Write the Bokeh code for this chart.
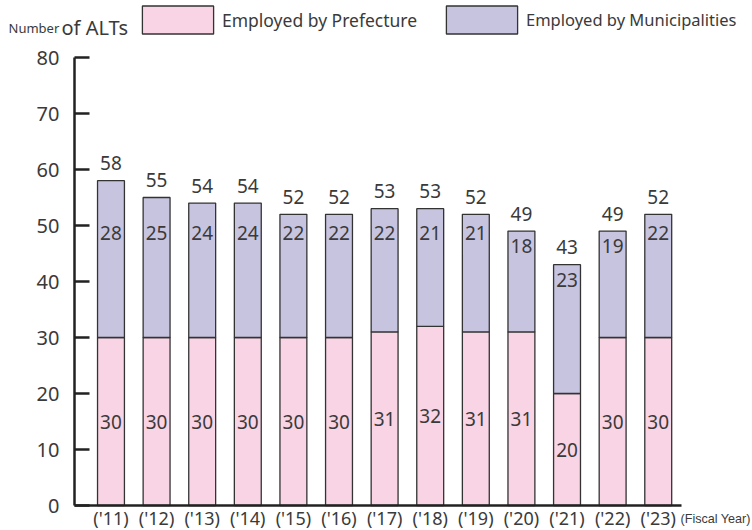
from bokeh.plotting import figure
from bokeh.models import Range1d, FixedTicker, Legend, LegendItem, Label, ColumnDataSource
from bokeh.core.properties import value
from bokeh.embed import file_html
from bokeh.resources import INLINE

years = ["('11)", "('12)", "('13)", "('14)", "('15)", "('16)", "('17)",
         "('18)", "('19)", "('20)", "('21)", "('22)", "('23)"]
prefecture = [30, 30, 30, 30, 30, 30, 31, 32, 31, 31, 20, 30, 30]
municipalities = [28, 25, 24, 24, 22, 22, 22, 21, 21, 18, 23, 19, 22]
totals = [58, 55, 54, 54, 52, 52, 53, 53, 52, 49, 43, 49, 52]
y_ticks = [0, 10, 20, 30, 40, 50, 60, 70, 80]

PINK = "#f8d4e4"
LAV = "#c7c4e0"
EDGE = "#333333"
AX = "#222222"
TXT = "#3a3a3a"
FONT = "Noto Sans"

W, H = 752, 530
# pixel geometry of the plotting area inside the canvas
AXL, AXR, AXT, AXB = 74, 681, 57, 505
X0, X1 = -0.8, 12.51
Y0, Y1 = 0, 80
ppx = (AXR - AXL) / (X1 - X0)
ppy = (AXB - AXT) / (Y1 - Y0)

xs = list(range(len(years)))
src = ColumnDataSource(dict(
    x=xs,
    pref=prefecture,
    total=totals,
    pref_lbl=[str(v) for v in prefecture],
    muni_lbl=[str(v) for v in municipalities],
    total_lbl=[str(v) for v in totals],
    pref_y=[min(24.5, v / 2) for v in prefecture],
    muni_y=[min(48.7, t - 2.7) for t in totals],
    total_y=[t + 3.1 for t in totals],
))

p = figure(width=W, height=H, output_backend="svg", toolbar_location=None,
           x_range=Range1d(X0 - AXL / ppx, X0 + (W - AXL) / ppx),
           y_range=Range1d(Y0 - (H - AXB) / ppy, Y1 + AXT / ppy),
           min_border_left=0, min_border_right=0,
           min_border_top=0, min_border_bottom=0)
p.outline_line_color = None
p.xgrid.grid_line_color = None
p.ygrid.grid_line_color = None

r1 = p.vbar(x="x", width=0.59, bottom=0, top="pref", source=src,
            fill_color=PINK, line_color=EDGE, line_width=1.3)
r2 = p.vbar(x="x", width=0.59, bottom="pref", top="total", source=src,
            fill_color=LAV, line_color=EDGE, line_width=1.3)

common = dict(source=src, text_align="center", text_baseline="middle",
              text_font=value(FONT), text_font_size="19px", text_color=TXT)
p.text(x="x", y="pref_y", text="pref_lbl", **common)
p.text(x="x", y="muni_y", text="muni_lbl", **common)
p.text(x="x", y="total_y", text="total_lbl", **common)

# axes drawn at fixed positions inside the canvas
ya = p.yaxis[0]
ya.fixed_location = X0
ya.bounds = (Y0, Y1)
ya.ticker = FixedTicker(ticks=y_ticks)
ya.major_tick_in = 15
ya.major_tick_out = 0
ya.minor_tick_line_color = None
ya.axis_line_width = 2.5
ya.axis_line_color = AX
ya.major_tick_line_width = 2.5
ya.major_tick_line_color = AX
ya.major_label_standoff = 15
ya.major_label_text_font = FONT
ya.major_label_text_font_size = "20px"
ya.major_label_text_color = TXT

xa = p.xaxis[0]
xa.fixed_location = Y0
xa.bounds = (X0, X1)
xa.ticker = FixedTicker(ticks=xs)
xa.major_label_overrides = {i: years[i] for i in xs}
xa.major_tick_line_color = None
xa.major_tick_in = 0
xa.major_tick_out = 0
xa.minor_tick_line_color = None
xa.axis_line_width = 2.5
xa.axis_line_color = AX
xa.major_label_standoff = 0
xa.major_label_text_font = FONT
xa.major_label_text_font_size = "18px"
xa.major_label_text_color = TXT

# legend row (legend boxes are drawn inset by 10% of the glyph area)
for r, name, gx, fs in [(r1, "Employed by Prefecture", 142, "17.5px"),
                        (r2, "Employed by Municipalities", 446, "16.5px")]:
    lg = Legend(items=[LegendItem(label=name, renderers=[r])],
                location=(gx - 9, H - 37), orientation="horizontal",
                glyph_width=89, glyph_height=35, label_standoff=0,
                label_text_font=FONT, label_text_font_size=fs,
                label_text_color=TXT, padding=0, margin=0,
                border_line_color=None, background_fill_alpha=0)
    p.add_layout(lg, "center")

p.add_layout(Label(x=8, y=H - 27, x_units="screen", y_units="screen", text="Number",
                   text_font=FONT, text_font_size="13px", text_color=TXT,
                   text_baseline="alphabetic"))
p.add_layout(Label(x=61, y=H - 27, x_units="screen", y_units="screen", text="of ALTs",
                   text_font=FONT, text_font_size="20px", text_color=TXT,
                   text_baseline="alphabetic"))
p.add_layout(Label(x=680, y=H - 518, x_units="screen", y_units="screen", text="(Fiscal Year)",
                   text_font="Liberation Sans", text_font_size="12.6px", text_color=TXT,
                   text_baseline="middle"))

open("out.html", "w").write(file_html(p, INLINE))
